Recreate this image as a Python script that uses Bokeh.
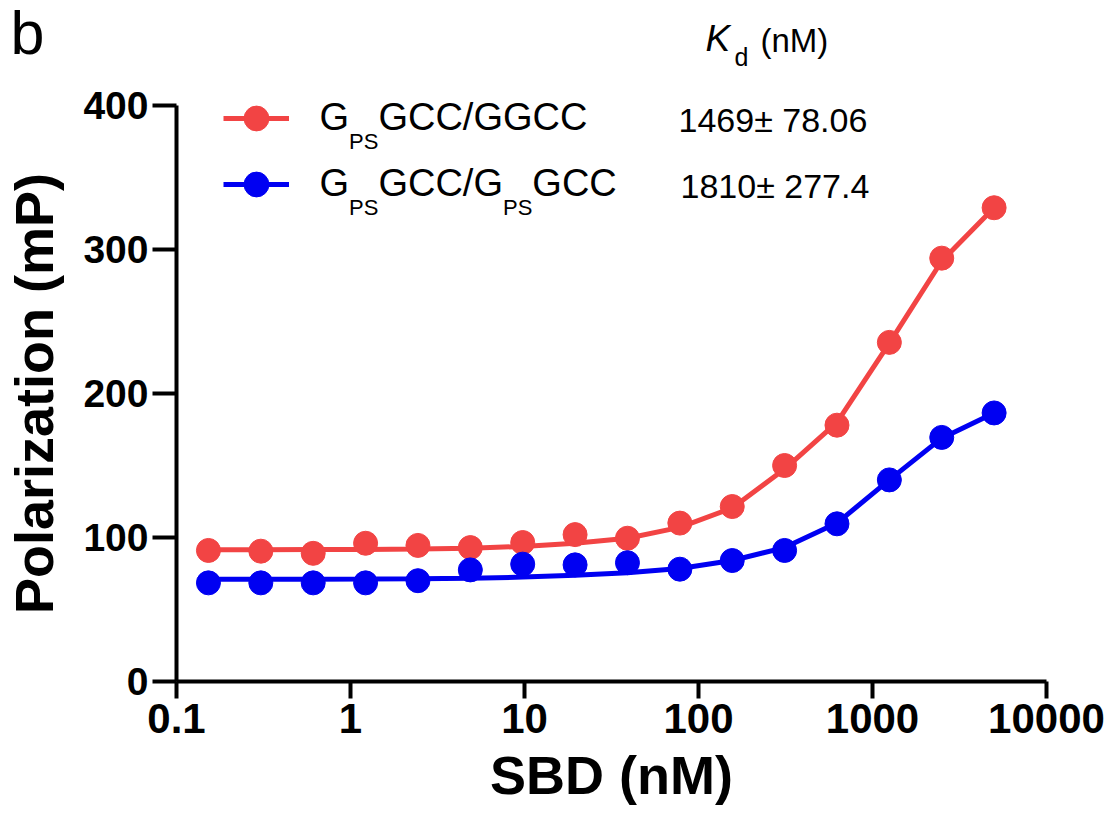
import math
from bokeh.plotting import figure
from bokeh.models import Label, Legend, LegendItem, FixedTicker
from bokeh.embed import file_html
from bokeh.resources import INLINE

# ---------------- data ----------------
conc_nM = [0.1526, 0.3052, 0.6104, 1.221, 2.441, 4.883, 9.766, 19.53,
           39.06, 78.13, 156.3, 312.5, 625, 1250, 2500, 5000]

red_obs = [91, 90.5, 89, 96, 94.5, 93, 96.5, 102, 99.5, 110, 121.5,
           150, 178, 235.5, 294, 329]
blue_obs = [68.5, 68.5, 68.5, 68.5, 70, 77.5, 81.5, 81, 82.5, 78, 84,
            91, 109.5, 140, 169.5, 186.5]

# fitted curves as drawn in the picture, read at the same concentrations
red_fit = [91.5, 91.5, 91.6, 91.7, 92, 92.6, 93.8, 96, 99.5, 107, 120.5,
           147.5, 180, 235, 292, 329]
blue_fit = [71, 71, 71, 71.1, 71.3, 71.7, 72.5, 73.8, 75.5, 78.5, 84,
            93, 110, 140, 169, 186.5]

kd_values = ["1469\u00b1 78.06", "1810\u00b1 277.4"]

x_ticks = [0.1, 1, 10, 100, 1000, 10000]
x_tick_labels = ["0.1", "1", "10", "100", "1000", "10000"]
y_ticks = [0, 100, 200, 300, 400]

RED = "#F24444"
BLUE = "#0000F2"
FONT = "Liberation Sans"

# ---------------- layout geometry (page pixels) ----------------
W, H = 1109, 816
AX_L, AX_R, AX_T, AX_B = 176, 1046, 105, 681   # where the axes sit
XMIN, XMAX = x_ticks[0], x_ticks[-1]
YMIN, YMAX = y_ticks[0], y_ticks[-1]
dec_px = (AX_R - AX_L) / (math.log10(XMAX) - math.log10(XMIN))
x_lo = 10 ** (math.log10(XMIN) - AX_L / dec_px)
x_hi = 10 ** (math.log10(XMAX) + (W - AX_R) / dec_px)
unit_px = (AX_B - AX_T) / (YMAX - YMIN)
y_lo = YMIN - (H - AX_B) / unit_px
y_hi = YMAX + AX_T / unit_px

p = figure(width=W, height=H, x_axis_type="log", x_range=(x_lo, x_hi),
           y_range=(y_lo, y_hi), output_backend="svg", toolbar_location=None,
           min_border=0)
p.outline_line_color = None
p.grid.visible = False

for ax in (p.xaxis, p.yaxis):
    ax.axis_line_width = 4
    ax.axis_line_color = "black"
    ax.major_tick_line_width = 4
    ax.major_tick_line_color = "black"
    ax.major_tick_in = 0
    ax.minor_tick_line_color = None
    ax.major_label_text_font = FONT
    ax.major_label_text_font_style = "bold"
    ax.major_label_text_color = "black"
    ax.axis_label_text_font = FONT
    ax.axis_label_text_font_style = "bold"
    ax.axis_label_text_font_size = "54px"
    ax.axis_label_text_color = "black"

p.xaxis.ticker = FixedTicker(ticks=x_ticks)
p.xaxis.major_label_overrides = {t: l for t, l in zip(x_ticks, x_tick_labels)}
p.xaxis.bounds = (XMIN, XMAX)
p.xaxis.fixed_location = YMIN
p.xaxis.major_tick_out = 17
p.xaxis.major_label_standoff = 5
p.xaxis.major_label_text_font_size = "42px"
p.xaxis.axis_label = "SBD (nM)"
p.xaxis.axis_label_standoff = 9

p.yaxis.ticker = FixedTicker(ticks=y_ticks)
p.yaxis.bounds = (YMIN, YMAX)
p.yaxis.fixed_location = XMIN
p.yaxis.major_tick_out = 24
p.yaxis.major_label_standoff = 4
p.yaxis.major_label_text_font_size = "39px"
p.yaxis.axis_label = "Polarization (mP)"
p.yaxis.axis_label_standoff = 16

# ---------------- data glyphs ----------------
r1l = p.line(conc_nM, red_fit, line_color=RED, line_width=5)
r1s = p.scatter(conc_nM, red_obs, size=24, fill_color=RED, line_color=RED)
r2l = p.line(conc_nM, blue_fit, line_color=BLUE, line_width=5)
r2s = p.scatter(conc_nM, blue_obs, size=24, fill_color=BLUE, line_color=BLUE)

legend = Legend(items=[LegendItem(label=" ", renderers=[r1l, r1s]),
                       LegendItem(label=" ", renderers=[r2l, r2s])],
                location=(223, H - 215), glyph_width=66, glyph_height=62,
                spacing=4, padding=0, margin=0, label_standoff=0,
                label_width=0, label_height=0, label_text_font_size="1px",
                border_line_color=None, background_fill_alpha=0)
p.add_layout(legend)

# ---------------- texts (page positions; frame covers the whole canvas) ----
SHIFT = 0.4   # measured: labels land about 0.4 em below the requested baseline
def lab(text, x, base, size, style="normal"):
    p.add_layout(Label(x=x, y=H - (base - SHIFT * size), x_units="screen",
                       y_units="screen", text=text, text_font=FONT,
                       text_font_size=f"{size}px", text_font_style=style,
                       text_color="black", text_baseline="alphabetic",
                       text_align="left"))

CW = {"G": 0.778, "C": 0.722, "/": 0.278, "P": 0.667, "S": 0.667}
def width(s, size):
    return sum(CW[c] for c in s) * size

MAIN, SUB, DROP = 38, 22, 18
def legend_text(pieces, x, base):
    for txt, is_sub in pieces:
        if is_sub:
            lab(txt, x, base + DROP, SUB)
            x += width(txt, SUB)
        else:
            lab(txt, x, base, MAIN)
            x += width(txt, MAIN)

legend_text([("G", False), ("PS", True), ("GCC/GGCC", False)], 319, 132)
legend_text([("G", False), ("PS", True), ("GCC/G", False), ("PS", True),
             ("GCC", False)], 319, 198)

lab(kd_values[0], 678, 133, 34)
lab(kd_values[1], 680, 199, 34)

lab("K", 705, 53, 37, "italic")
lab("d", 734, 66, 25)
lab("(nM)", 760, 53, 33)

lab("b", 10, 57, 61)

open("out.html", "w").write(file_html(p, INLINE))
